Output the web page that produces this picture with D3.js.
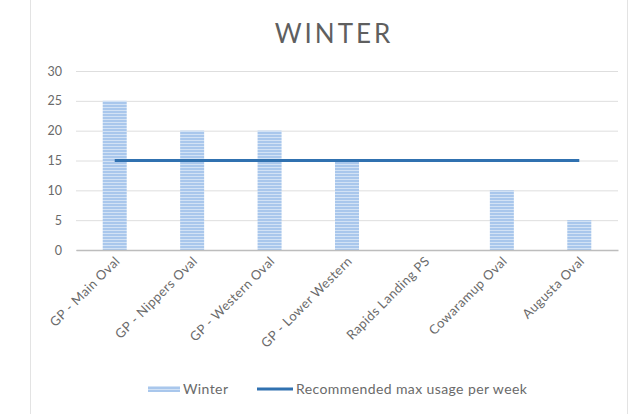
<!DOCTYPE html>
<html>
<head>
<meta charset="utf-8">
<script src="https://cdn.jsdelivr.net/npm/d3@7"></script>
<style>
  html, body { margin: 0; padding: 0; background: #fff; }
  svg { display: block; font-family: Lato, "Open Sans", sans-serif; }
</style>
</head>
<body>
<svg id="chart" width="636" height="414"></svg>
<script>
// Weekly usage per venue during winter, with the recommended limit
const venues = ["GP - Main Oval", "GP - Nippers Oval", "GP - Western Oval", "GP - Lower Western",
                "Rapids Landing PS", "Cowaramup Oval", "Augusta Oval"];
const winterUsage = [25, 20, 20, 15, 0, 10, 5];
const recommendedMax = [15, 15, 15, 15, 15, 15, 15];
const yTicks = [0, 5, 10, 15, 20, 25, 30];
const seriesNames = ["Winter", "Recommended max usage per week"];
const chartTitle = "WINTER";

const svg = d3.select("#chart");
const W = 636, H = 414;
const margin = { left: 76, right: 18, top: 71, bottom: 164 };

const x = d3.scaleBand().domain(venues).range([margin.left, W - margin.right]).paddingInner(0.69).paddingOuter(0.345);
const y = d3.scaleLinear().domain([0, 30]).range([H - margin.bottom, margin.top]);

// Striped fill for the bars
const defs = svg.append("defs");
const pat = defs.append("pattern").attr("id", "hstripe").attr("patternUnits", "userSpaceOnUse")
  .attr("width", 6).attr("height", 3);
pat.append("rect").attr("width", 6).attr("height", 3).attr("fill", "#a9c7ec");
pat.append("rect").attr("y", 2).attr("width", 6).attr("height", 1).attr("fill", "#d2e2f5");

// Chart frame
svg.append("rect").attr("x", 30.5).attr("y", -2).attr("width", 597).attr("height", 420)
  .attr("fill", "#fff").attr("stroke", "#e3e3e3");

// Title
svg.append("text").attr("x", 334).attr("y", 43).attr("text-anchor", "middle")
  .attr("font-size", 26).attr("letter-spacing", 3).attr("fill", "#5f5f5f").text(chartTitle);

// Gridlines and y labels
const yAxis = d3.axisLeft(y).tickValues(yTicks).tickSize(-(W - margin.left - margin.right)).tickPadding(14);
const gy = svg.append("g").attr("transform", `translate(${margin.left},0)`).call(yAxis);
gy.select(".domain").remove();
gy.selectAll(".tick line").attr("stroke", "#dedede");
gy.selectAll(".tick text").attr("fill", "#6a6a6a").attr("font-size", 12.5).attr("font-family", "Lato, sans-serif");

// Bars
svg.append("g").selectAll("rect").data(venues).join("rect")
  .attr("x", d => x(d))
  .attr("y", (d, i) => y(winterUsage[i]))
  .attr("width", x.bandwidth())
  .attr("height", (d, i) => y(0) - y(winterUsage[i]))
  .attr("fill", "url(#hstripe)");

// Category axis
const xAxis = d3.axisBottom(x).tickSize(0).tickPadding(0);
const gx = svg.append("g").attr("transform", `translate(0,${y(0)})`).call(xAxis);
gx.select(".domain").attr("stroke", "#bdbdbd").attr("stroke-width", 1.3);
gx.selectAll(".tick text")
  .attr("fill", "#6a6a6a").attr("font-size", 13).attr("letter-spacing", 0.4).attr("font-family", "Lato, sans-serif")
  .attr("text-anchor", "end").attr("dy", 0)
  .attr("transform", "translate(6,12) rotate(-45)");

// Recommended limit line
const line = d3.line().x((d, i) => x(venues[i]) + x.bandwidth() / 2).y(d => y(d));
svg.append("path").datum(recommendedMax).attr("d", line)
  .attr("fill", "none").attr("stroke", "#3071b0").attr("stroke-width", 3);

// Legend
const lg = svg.append("g").attr("font-size", 14).attr("letter-spacing", 0.4).attr("fill", "#6a6a6a");
lg.append("rect").attr("x", 148).attr("y", 386).attr("width", 32).attr("height", 6).attr("fill", "url(#hstripe)");
lg.append("text").attr("x", 183).attr("y", 394).text(seriesNames[0]);
lg.append("line").attr("x1", 257).attr("x2", 293).attr("y1", 389).attr("y2", 389)
  .attr("stroke", "#3071b0").attr("stroke-width", 3);
lg.append("text").attr("x", 296).attr("y", 394).text(seriesNames[1]);
</script>
</body>
</html>
